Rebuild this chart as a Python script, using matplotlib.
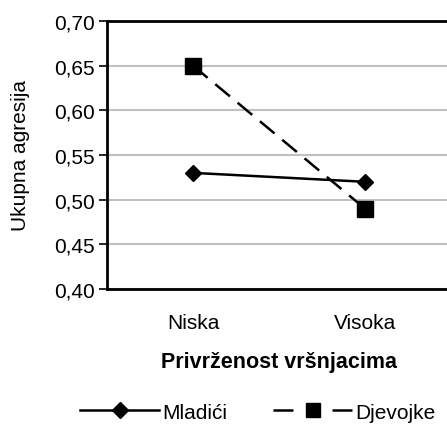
import matplotlib.pyplot as plt
from matplotlib.lines import Line2D
from matplotlib.ticker import FuncFormatter

plt.rcParams['font.family'] = ['Liberation Sans', 'DejaVu Sans']

categories = ["Niska", "Visoka"]
mladici = [0.53, 0.52]
djevojke = [0.65, 0.49]
yticks = [0.40, 0.45, 0.50, 0.55, 0.60, 0.65, 0.70]

fig = plt.figure(figsize=(4.47, 4.35), dpi=100)
ax = fig.add_axes([107 / 447, 1 - 290 / 435, 344 / 447, 268 / 435])

x = list(range(len(categories)))
ax.plot(x, mladici, color='black', lw=1.8, marker='D', ms=8)
ax.plot(x, djevojke, color='black', lw=1.8, ls=(0, (7.6, 4)), marker='s', ms=11)

ax.set_xlim(-0.5, 1.5)
ax.set_ylim(0.40, 0.70)
ax.set_yticks(yticks)
ax.yaxis.set_major_formatter(FuncFormatter(lambda v, p: f"{v:.2f}".replace('.', ',')))
ax.set_xticks(x)
ax.set_xticklabels(categories)
ax.tick_params(axis='x', length=0, pad=17, labelsize=15)
ax.tick_params(axis='y', length=6, width=1.2, labelsize=15, pad=3)
ax.grid(axis='y', color='#c0c0c0', lw=1.5)
ax.set_axisbelow(True)

for s in ['left', 'top', 'bottom']:
    ax.spines[s].set_linewidth(2)
    ax.spines[s].set_color('black')
ax.spines['right'].set_visible(False)

ax.set_ylabel('Ukupna agresija', fontsize=15, labelpad=17)
ax.set_xlabel('Privrženost vršnjacima', fontsize=15.5, fontweight='bold', labelpad=14)

# legend proxies with longer dashes, like the original
h1 = Line2D([], [], color='black', lw=1.8, marker='D', ms=8)
h2 = Line2D([], [], color='black', lw=1.8, ls=(0, (8, 15.6)), marker='s', ms=10)
fig.legend([h1, h2], ['Mladići', 'Djevojke'], loc='center',
           bbox_to_anchor=(0.577, 0.05), ncol=2, frameon=False,
           fontsize=15, handlelength=3.8, columnspacing=2.2, handletextpad=0.15)

fig.savefig('out.png', dpi=100)
